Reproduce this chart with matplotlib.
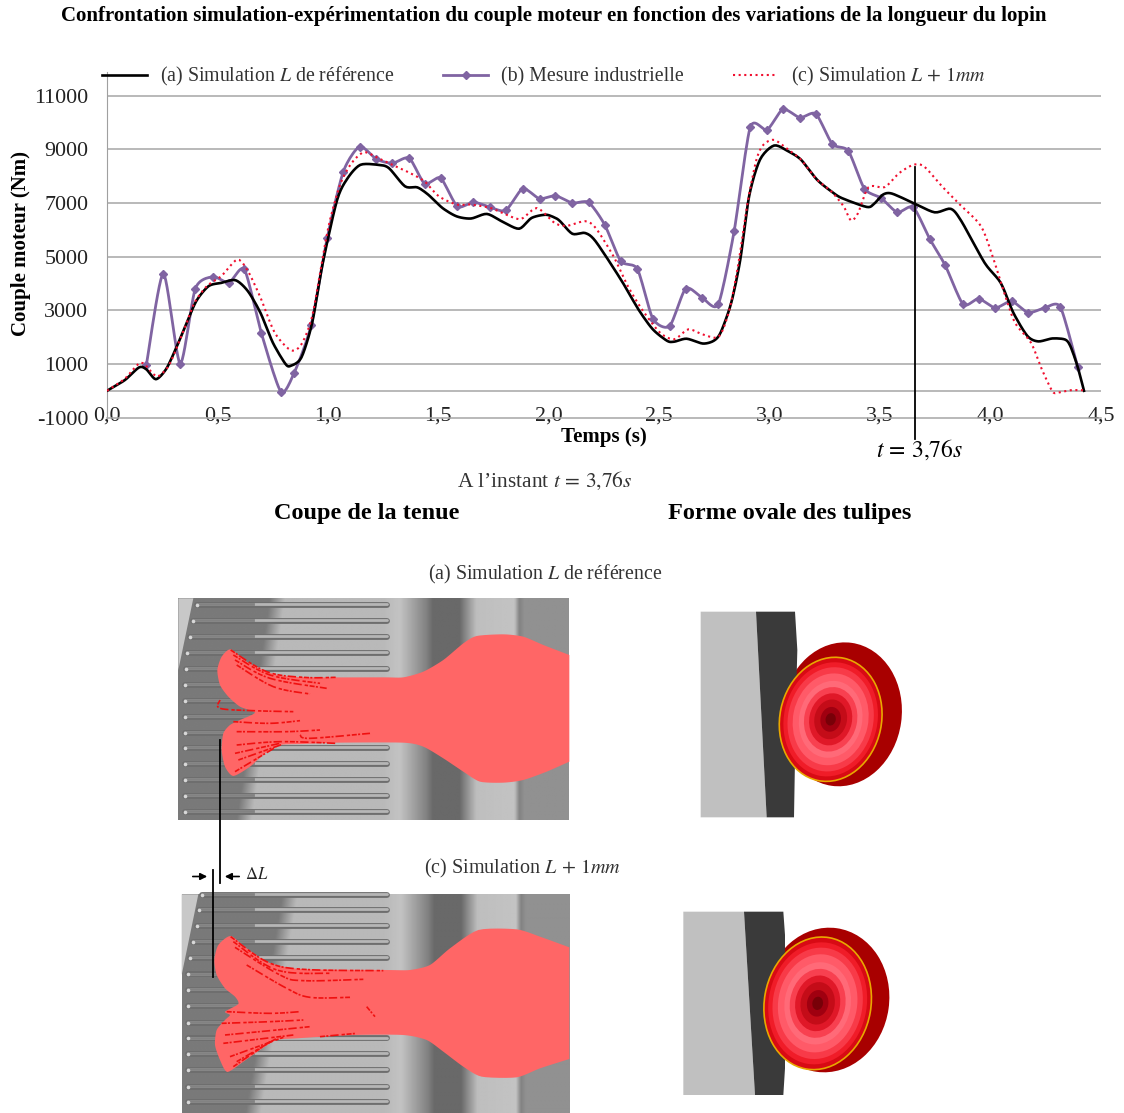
import numpy as np
import matplotlib
matplotlib.use('Agg')
import matplotlib.pyplot as plt
from matplotlib.patches import Ellipse, Polygon

plt.rcParams['font.family'] = ['Liberation Serif', 'DejaVu Serif']
plt.rcParams['mathtext.fontset'] = 'stix'
plt.rcParams['axes.unicode_minus'] = False

# ================== donnees du graphique ==================
title = "Confrontation simulation-expérimentation du couple moteur en fonction des variations de la longueur du lopin"
x_ticks = [0.0, 0.5, 1.0, 1.5, 2.0, 2.5, 3.0, 3.5, 4.0, 4.5]
x_tick_labels = ['0,0', '0,5', '1,0', '1,5', '2,0', '2,5', '3,0', '3,5', '4,0', '4,5']
y_ticks = [-1000, 1000, 3000, 5000, 7000, 9000, 11000]

t_ref = [0, .081, .145, .178, .221, .267, .307, .355, .404, .46, .517, .582, .638, .695, .751, .808, .832, .88,
         .929, .977, 1.042, 1.09, 1.147, 1.228, 1.276, 1.349, 1.405, 1.454, 1.519, 1.583, 1.648, 1.72, 1.793,
         1.866, 1.922, 1.987, 2.03, 2.051, 2.107, 2.164, 2.212, 2.326, 2.406, 2.471, 2.536, 2.568, 2.624, 2.697,
         2.746, 2.778, 2.826, 2.867, 2.907, 2.956, 3.02, 3.085, 3.142, 3.214, 3.279, 3.327, 3.44, 3.473, 3.513,
         3.553, 3.65, 3.747, 3.82, 3.868, 3.973, 4.046, 4.103, 4.167, 4.216, 4.28, 4.337, 4.361, 4.393, 4.423]
c_ref = [0, 400, 870, 800, 430, 800, 1480, 2410, 3340, 3900, 4020, 4120, 3710, 2900, 1790, 1000, 930, 1240,
         2540, 4770, 7120, 7930, 8420, 8420, 8300, 7620, 7580, 7310, 6810, 6500, 6420, 6590, 6290,
         6040, 6440, 6560, 6440, 6320, 5850, 5880, 5570, 4150, 3030, 2290, 1860, 1830, 1940, 1760,
         1860, 2170, 3280, 4890, 7250, 8610, 9140, 8920, 8610, 7870, 7430, 7180, 6850, 6970, 7310,
         7350, 7000, 6650, 6780, 6320, 4770, 4020, 2910, 2040, 1840, 1950, 1910, 1670, 930, 0]

t_mes = [.178, .255, .331, .40, .48, .552, .622, .698, .787, .848, .924, .997, 1.07, 1.144, 1.22, 1.292, 1.368,
         1.438, 1.51, 1.586, 1.659, 1.732, 1.805, 1.882, 1.958, 2.03, 2.107, 2.18, 2.253, 2.326, 2.401, 2.471,
         2.547, 2.62, 2.694, 2.767, 2.839, 2.912, 2.988, 3.06, 3.137, 3.209, 3.284, 3.356, 3.429, 3.505, 3.578,
         3.65, 3.726, 3.795, 3.876, 3.946, 4.022, 4.095, 4.17, 4.245, 4.316, 4.394]
c_mes = [950, 4370, 1010, 3810, 4250, 4030, 4520, 2170, -30, 680, 2440, 5700, 8170, 9100, 8630, 8480, 8670,
         7720, 7930, 6870, 7030, 6850, 6720, 7530, 7160, 7270, 7000, 7020, 6190, 4830, 4540, 2690,
         2410, 3810, 3470, 3220, 5940, 9820, 9720, 10490, 10180, 10320, 9190, 8940, 7530, 7180, 6650,
         6840, 5640, 4670, 3220, 3430, 3090, 3340, 2910, 3090, 3120, 900]

t_long = [0, .081, .153, .21, .234, .283, .355, .396, .452, .517, .59, .638, .695, .759, .832, .88, .929, .977,
          1.01, 1.058, 1.107, 1.163, 1.228, 1.292, 1.373, 1.438, 1.502, 1.583, 1.648, 1.737, 1.809, 1.874, 1.947,
          2.027, 2.083, 2.164, 2.212, 2.293, 2.358, 2.422, 2.503, 2.568, 2.632, 2.697, 2.77, 2.818, 2.859, 2.9,
          2.94, 2.972, 3.02, 3.085, 3.142, 3.214, 3.279, 3.335, 3.368, 3.4, 3.448, 3.521, 3.586, 3.65, 3.699,
          3.78, 3.861, 3.957, 4.014, 4.062, 4.111, 4.183, 4.232, 4.28, 4.305, 4.361, 4.423]
c_long = [0, 450, 1050, 620, 550, 990, 2410, 3280, 3900, 4270, 4890, 4460, 3470, 2170, 1510, 1730, 2780, 5010,
          6380, 7740, 8480, 8890, 8670, 8420, 8110, 7800, 7250, 6940, 6940, 6810, 6560, 6400, 6810,
          6250, 6150, 6320, 6070, 5010, 3900, 3030, 2170, 1920, 2290, 2100, 2020, 3030, 4770, 7000,
          8610, 9170, 9350, 8980, 8610, 7870, 7430, 6870, 6350, 6620, 7590, 7590, 8110, 8420, 8360,
          7620, 6940, 6130, 4890, 3650, 2530, 1790, 800, -20, -70, 20, 20]

t_instant = 3.656

# contours des illustrations (pixels du zoom x3, origine = coin de la vignette)
# le contour part du coin bas droit et finit au coin haut droit
tulipe_a = [(1198, 515), (1130, 545), (1060, 570), (1000, 578), (930, 575), (880, 545), (820, 505), (760, 470),
            (700, 458), (500, 458), (400, 462), (330, 465), (285, 490), (240, 530), (190, 558), (165, 530),
            (155, 480), (160, 430), (180, 405), (210, 390), (255, 368), (210, 350), (175, 320), (150, 285),
            (142, 240), (155, 200), (182, 178), (230, 215), (290, 245), (340, 258), (420, 262), (640, 262),
            (700, 262), (760, 245), (820, 210), (880, 160), (920, 138), (1000, 133), (1060, 140), (1120, 165),
            (1198, 195)]
tulipe_c = [(1198, 597), (1110, 625), (1040, 652), (935, 650), (880, 620), (820, 575), (770, 540), (700, 525),
            (550, 525), (380, 535), (320, 540), (270, 570), (220, 605), (172, 636), (150, 600), (135, 555),
            (140, 510), (165, 480), (180, 465), (165, 455), (205, 432), (195, 410), (165, 385), (140, 345),
            (133, 300), (145, 255), (182, 228), (230, 265), (290, 305), (350, 322), (420, 328), (650, 330),
            (720, 330), (780, 315), (840, 265), (925, 210), (1040, 208), (1110, 230), (1198, 262)]
stries_a = [[(182, 180), (290, 245), (400, 262), (500, 262)], [(190, 195), (300, 255), (450, 280)],
            [(195, 210), (300, 265), (470, 295)], [(200, 225), (310, 290), (420, 312)],
            [(190, 395), (300, 400), (390, 392)], [(200, 425), (350, 425), (450, 420)],
            [(200, 465), (330, 455), (500, 460)], [(195, 490), (330, 460)], [(205, 510), (340, 462)],
            [(195, 545), (320, 470)], [(150, 330), (150, 355), (250, 362), (370, 365)],
            [(390, 435), (420, 445), (600, 430)]]
stries_c = [[(182, 230), (290, 305), (400, 328), (640, 332)], [(190, 245), (320, 330), (480, 340)],
            [(195, 262), (330, 345), (400, 362), (580, 358)], [(230, 315), (350, 385), (420, 412), (540, 412)],
            [(170, 455), (300, 460), (390, 455)], [(155, 490), (300, 485), (400, 480)],
            [(165, 525), (320, 510), (420, 500)], [(160, 550), (370, 525)], [(180, 590), (340, 532)],
            [(190, 620), (300, 545)], [(200, 605), (320, 535)], [(590, 440), (615, 470)],
            [(450, 530), (560, 520)]]
slots_a_y = [45, 93, 140, 188, 237, 285, 333, 380, 428, 473, 521, 570, 618, 665]
slots_a_x = [80, 70, 60, 52, 48, 45, 45, 45, 45, 45, 45, 45, 45, 45]
slots_c_y = [105, 150, 197, 245, 293, 343, 390, 437, 488, 535, 582, 630, 680, 725]
slots_c_x = [95, 88, 80, 70, 60, 55, 55, 55, 55, 55, 55, 55, 55, 55]
gris_stops_x = [0, 640, 690, 770, 790, 870, 920, 1035, 1050, 1065, 1198]
gris_stops_v = [185, 185, 195, 130, 105, 105, 190, 195, 130, 145, 145]
rouges = ['#d80a14', '#f01c28', '#f83a48', '#ff5a68', '#ff6a78', '#f84050', '#e01828', '#c40c18', '#a00010',
          '#780008']
rouges_taille = [1.0, .92, .84, .74, .62, .52, .42, .32, .2, .1]


def hermite(x, y, n=12, k=0.5):
    # courbe lissee facon Excel, n pas par segment
    x = np.array(x, dtype=float)
    y = np.array(y, dtype=float)
    out = []
    for p in (x, y):
        m = k * (np.r_[p[1:], p[-1]] - np.r_[p[0], p[:-1]])
        seg = []
        u = np.arange(n) / n
        for i in range(len(p) - 1):
            seg.append((2 * u ** 3 - 3 * u ** 2 + 1) * p[i] + (u ** 3 - 2 * u ** 2 + u) * m[i]
                       + (-2 * u ** 3 + 3 * u ** 2) * p[i + 1] + (u ** 3 - u ** 2) * m[i + 1])
        out.append(np.r_[np.concatenate(seg), p[-1]])
    return out[0], out[1]


def to_px(points, ox, oy):
    return [(ox + p[0] / 3, oy + p[1] / 3) for p in points]


def draw_panel(bg, ox, oy, x_left, y_top, y_bot, edge_top, edge_bot, coin, slots_y, slots_x, tulipe, stries):
    # fond de l'outillage : bandes verticales + zone sombre oblique a gauche
    gx, gy = np.meshgrid(np.arange(x_left, 1199, 4), np.arange(y_top, y_bot + 1, 4))
    gris = np.interp(gx, gris_stops_x, gris_stops_v)
    edge = edge_top + (edge_bot - edge_top) * (gy - y_top) / (y_bot - y_top)
    mix = np.clip((gx - edge) / 45, 0, 1)
    gris = gris * mix + 122 * (1 - mix)
    bg.imshow(gris, cmap='gray', vmin=0, vmax=255, aspect='auto', zorder=1, interpolation='bilinear',
              extent=[ox + x_left / 3, ox + 1198 / 3, oy + y_bot / 3, oy + y_top / 3])
    bg.add_patch(Polygon(to_px(coin, ox, oy), closed=True, color='#c8c8c8', lw=0, zorder=2))
    for sy, sx in zip(slots_y, slots_x):
        if sy > y_bot or sy < y_top:
            continue
        xs = [ox + sx / 3, ox + 650 / 3]
        ys = [oy + sy / 3, oy + sy / 3]
        bg.plot(xs, ys, color='#6e6e6e', lw=4.2, solid_capstyle='round', zorder=3)
        bg.plot(xs, [ys[0] - 0.6, ys[1] - 0.6], color='#b6b6b6', lw=2.0, solid_capstyle='round', zorder=3)
        bg.plot([xs[0], ox + 250 / 3], [ys[0] - 0.6, ys[1] - 0.6], color='#828282', lw=2.0, zorder=3)
        bg.plot(xs[0], ys[0], 'o', color='#d8d8d8', ms=2.6, mew=0, zorder=3)
    px = to_px(tulipe, ox, oy)
    tx, ty = hermite([p[0] for p in px], [p[1] for p in px], 6, 0.35)
    bg.add_patch(Polygon(np.column_stack([tx, ty]), closed=True, color='#ff6666', lw=0, zorder=4))
    for strie in stries:
        pts = to_px(strie, ox, oy)
        sx, sy = hermite([p[0] for p in pts], [p[1] for p in pts], 8)
        bg.plot(sx, sy, color='#f01010', lw=1.2, ls=(0, (3, 0.8, 1.2, 1.2, 5, 1.8, 2, 1)), zorder=5)


def draw_section(bg, ox, oy, gris_poly, noir_poly, ext, yeux):
    # coupe de la tulipe : ellipses imbriquees du rouge fonce au rouge clair
    cx, cy, w, h, ang = ext
    bg.add_patch(Ellipse((ox + cx / 3, oy + cy / 3), w / 3, h / 3, angle=ang, color='#a80000', lw=0, zorder=1))
    bg.add_patch(Polygon(to_px(gris_poly, ox, oy), closed=True, color='#c0c0c0', lw=0, zorder=3))
    bg.add_patch(Polygon(to_px(noir_poly, ox, oy), closed=True, color='#3a3a3a', lw=0, zorder=3))
    cx, cy, w, h, ang = yeux
    for col, t in zip(rouges, rouges_taille):
        bg.add_patch(Ellipse((ox + cx / 3, oy + cy / 3), t * w / 3, t * h / 3, angle=ang, color=col, lw=0,
                             zorder=4))
    bg.add_patch(Ellipse((ox + cx / 3, oy + cy / 3), w / 3, h / 3, angle=ang, fill=False, ec='#e8a800', lw=1.2,
                         zorder=5))


fig = plt.figure(figsize=(11.24, 11.13), dpi=100)
W, H = 1124, 1113

# calque en pixels pour les textes et les illustrations
bg = fig.add_axes([0, 0, 1, 1], zorder=1)

draw_panel(bg, 170, 590, 25, 25, 690, 300, 200, [(25, 25), (70, 25), (25, 240)], slots_a_y, slots_a_x,
           tulipe_a, stries_a)
draw_panel(bg, 170, 860, 35, 103, 759, 335, 225, [(35, 103), (85, 103), (35, 345)], slots_c_y, slots_c_x,
           tulipe_c, stries_c)
draw_section(bg, 670, 600, [(92, 35), (258, 35), (290, 652), (92, 652)],
             [(258, 35), (375, 35), (382, 150), (378, 300), (372, 652), (290, 652)],
             (515, 343, 360, 433, 8), (482, 358, 305, 375, 12))
draw_section(bg, 670, 895, [(40, 50), (222, 50), (255, 600), (40, 600)],
             [(222, 50), (340, 50), (345, 120), (345, 520), (340, 600), (255, 600)],
             (470, 315, 375, 435, 8), (443, 325, 320, 400, 10))

bg.set_xlim(0, W)
bg.set_ylim(H, 0)
bg.axis('off')

# cotation delta L
bg.plot([212.7, 212.7], [870, 977], color='black', lw=1.3, zorder=6)
bg.plot([220, 220], [740, 883], color='black', lw=1.3, zorder=6)
bg.annotate('', xy=(210, 876.5), xytext=(190, 876.5), arrowprops=dict(arrowstyle='-|>', color='black', lw=1.2))
bg.annotate('', xy=(222, 876.5), xytext=(242, 876.5), arrowprops=dict(arrowstyle='-|>', color='black', lw=1.2))
bg.text(245, 875, r'$\Delta L$', fontsize=12, va='center', ha='left', color='#222222')

bg.text(554, 16, title, fontsize=15.05, fontweight='bold', ha='center', va='center')
bg.text(21, 244, 'Couple moteur (Nm)', fontsize=15, fontweight='bold', rotation=90, ha='center', va='center')
bg.text(604, 437, 'Temps (s)', fontsize=15, fontweight='bold', ha='center', va='center')
bg.text(920, 450, r'$t\,=\,3{,}76s$', fontsize=17, ha='center', va='center')
bg.text(545, 481, r"A l’instant $t\,=\,3{,}76s$", fontsize=15.4, color='#333333', ha='center', va='center')
bg.text(367, 513, 'Coupe de la tenue', fontsize=17.5, fontweight='bold', ha='center', va='center')
bg.text(790, 513, 'Forme ovale des tulipes', fontsize=17.5, fontweight='bold', ha='center', va='center')
bg.text(545, 574, r'(a) Simulation $L$ de référence', fontsize=14.3, color='#333333', ha='center', va='center')
bg.text(523, 868, r'(c) Simulation $L\,+\,1mm$', fontsize=14.5, color='#333333', ha='center', va='center')

# graphique principal
ax_l, ax_r = 107 / W, 1101 / W
ax_top, ax_bot = 72 / H, 417.6 / H
ax = fig.add_axes([ax_l, 1 - ax_bot, ax_r - ax_l, ax_bot - ax_top], zorder=2)
ax.patch.set_alpha(0)

ax.set_xlim(0, 4.5)
ax.set_ylim(-1000, 11880)
ax.set_xticks(x_ticks)
ax.set_xticklabels(x_tick_labels)
ax.set_yticks(y_ticks)
ax.tick_params(axis='x', length=0, pad=-8, labelsize=15.8, labelcolor='#222222')
ax.tick_params(axis='y', length=0, pad=13.5, labelsize=15.8, labelcolor='#222222')
for side in ['top', 'right']:
    ax.spines[side].set_visible(False)
ax.spines['left'].set_color('#a0a0a0')
ax.spines['bottom'].set_color('#a6a6a6')
ax.spines['bottom'].set_linewidth(1.1)

for val in [0, 1000, 3000, 5000, 7000, 9000, 11000]:
    ax.axhline(val, color='#a6a6a6', lw=1.1, zorder=1)

sx, sy = hermite(t_mes, c_mes, 12, 0.35)
ax.plot(sx, sy, color='#8064a2', lw=2.0, marker='D', ms=4.2, markevery=12, zorder=2,
        label='(b) Mesure industrielle')
sx, sy = hermite(t_ref, c_ref, 6, 0.4)
ax.plot(sx, sy, color='black', lw=1.9, zorder=3, label=r'(a) Simulation $L$ de référence')
sx, sy = hermite(t_long, c_long, 6, 0.4)
ax.plot(sx, sy, color='#f01030', lw=1.5, ls=(0, (1, 1.7)), zorder=4, label=r'(c) Simulation $L\,+\,1mm$')

ax.plot([t_instant, t_instant], [8350, -1780], color='black', lw=1.3, zorder=5, clip_on=False)

handles, labels = ax.get_legend_handles_labels()
order = [1, 0, 2]
leg = ax.legend([handles[i] for i in order], [labels[i] for i in order], ncol=3, frameon=False, fontsize=14.3,
                loc='upper left', bbox_to_anchor=(102 / W, 1 - 65 / H), bbox_transform=fig.transFigure,
                borderpad=0, borderaxespad=0, handlelength=2.25, handletextpad=0.65, columnspacing=2.5,
                numpoints=1, labelcolor='#333333')

plt.savefig('out.png', dpi=100)
plt.close()
